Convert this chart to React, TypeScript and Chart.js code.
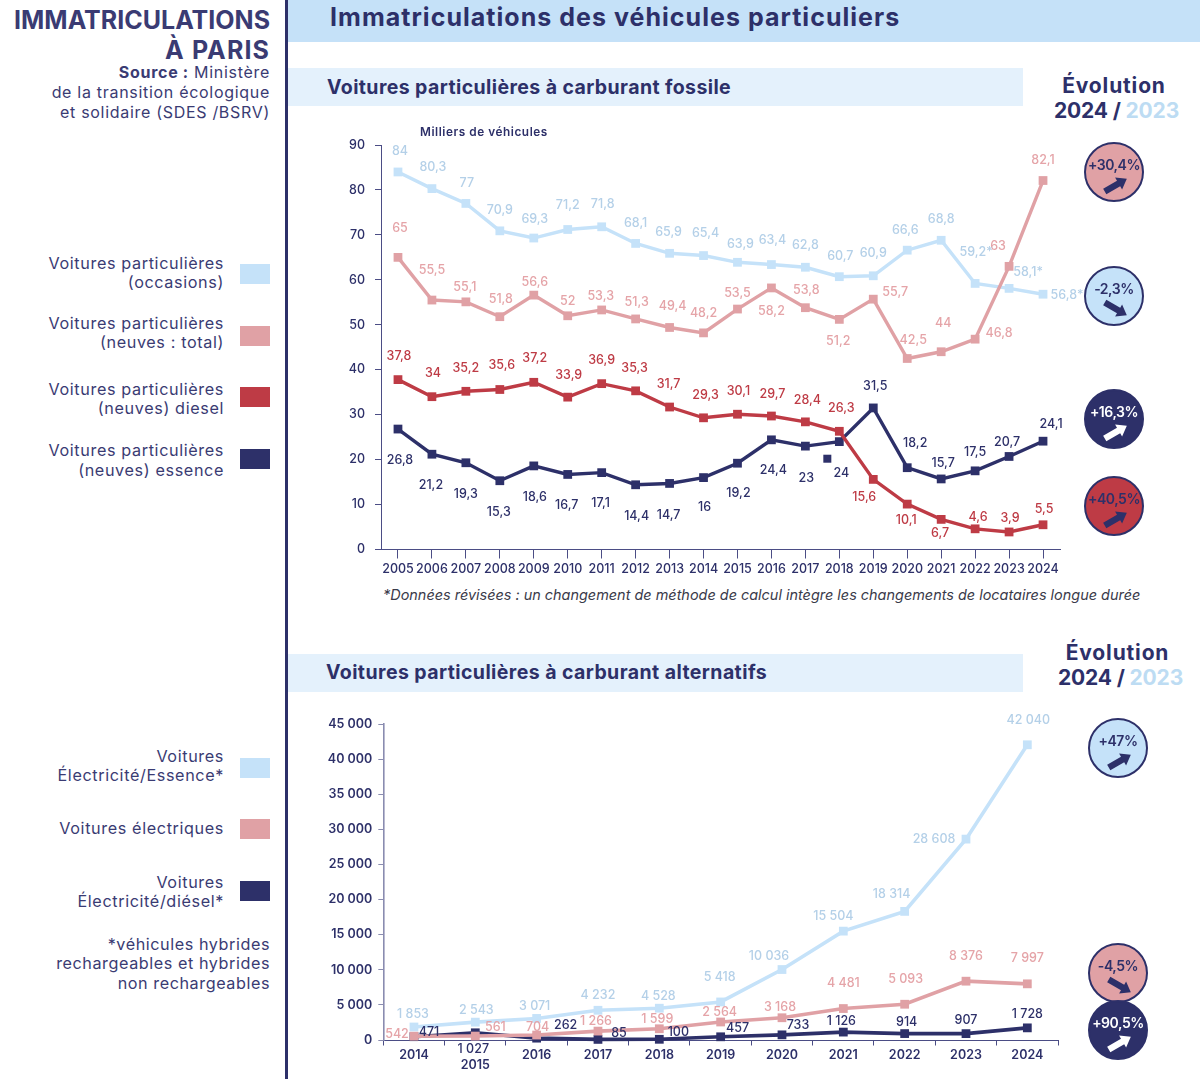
import React, { useEffect, useRef } from "react";
import { Chart, registerables } from "chart.js";

Chart.register(...registerables);

// ---------- data: fossil chart ----------
const yearsFossil = ["2005","2006","2007","2008","2009","2010","2011","2012","2013","2014","2015","2016","2017","2018","2019","2020","2021","2022","2023","2024"];
const occasions = [84,80.3,77,70.9,69.3,71.2,71.8,68.1,65.9,65.4,63.9,63.4,62.8,60.7,60.9,66.6,68.8,59.2,58.1,56.8];
const neuvesTotal = [65,55.5,55.1,51.8,56.6,52,53.3,51.3,49.4,48.2,53.5,58.2,53.8,51.2,55.7,42.5,44,46.8,63,82.1];
const neuvesDiesel = [37.8,34,35.2,35.6,37.2,33.9,36.9,35.3,31.7,29.3,30.1,29.7,28.4,26.3,15.6,10.1,6.7,4.6,3.9,5.5];
const neuvesEssence = [26.8,21.2,19.3,15.3,18.6,16.7,17.1,14.4,14.7,16,19.2,24.4,23,24,31.5,18.2,15.7,17.5,20.7,24.1];
const occasionsSuffix = ["","","","","","","","","","","","","","","","","","*","*","*"];
const fossilTicks = [0,10,20,30,40,50,60,70,80,90];

// ---------- data: alternative chart ----------
const yearsAlt = ["2014","2015","2016","2017","2018","2019","2020","2021","2022","2023","2024"];
const elecEssence = [1853,2543,3071,4232,4528,5418,10036,15504,18314,28608,42040];
const electriques = [542,561,704,1266,1599,2564,3168,4481,5093,8376,7997];
const elecDiesel = [471,1027,262,85,100,457,733,1126,914,907,1728];
const altTicks = [0,5000,10000,15000,20000,25000,30000,35000,40000,45000];

// ---------- colours ----------
const NAVY = "#2D3069";
const LIGHT = "#C5E2F9";
const PINK = "#E0A1A5";
const RED = "#BE3B45";
const LIGHT_LABEL = "#B4D0E8";
const PINK_LABEL = "#E5A4A8";
const TEXT = "#3A3B73";
const FONT = "Inter, 'Open Sans', sans-serif";

// ---------- label nudges relative to each point ([dx, dy]) ----------
const nudgeOcc = [[2,-21],[1,-21],[1,-20],[0,-21],[1,-19],[0,-24],[1,-23],[0,-20],[-1,-21],[2,-22],[3,-18],[1,-24],[0,-22],[1,-20],[0,-23],[-2,-20],[0,-21],[1,-31],[19,-16],[24,1]];
const nudgeTot = [[2,-29],[0,-30],[-1,-15],[1,-17],[1,-13],[0,-15],[-1,-14],[1,-17],[3,-21],[0,-20],[0,-16],[0,23],[1,-17],[-1,22],[22,-7],[6,-18],[2,-29],[24,-6],[-11,-20],[0,-20]];
const nudgeDie = [[1,-23],[1,-23],[0,-23],[2,-24],[1,-24],[1,-22],[0,-23],[-1,-23],[-1,-23],[2,-23],[1,-23],[1,-22],[2,-22],[2,-23],[-9,18],[-1,16],[-1,14],[3,-12],[1,-14],[1,-16]];
const nudgeEss = [[2,31],[-1,31],[0,31],[-1,31],[1,31],[-1,31],[-1,31],[1,31],[-1,32],[1,30],[1,30],[2,30],[1,32],[2,32],[2,-22],[8,-24],[2,-16],[0,-19],[-2,-14],[8,-17]];
const nudgeLight = [[-1,-13],[1,-12],[-2,-12],[0,-15],[-1,-12],[-1,-25],[-13,-13],[-10,-15],[-13,-17],[-32,0],[1,-25]];
const nudgePink = [[-17,-2],[20,-9],[1,-8],[-2,-10],[-2,-10],[-1,-10],[-2,-11],[0,-25],[1,-25],[0,-25],[0,-26]];
const nudgeNavy = [[15,-4],[-2,16],[29,-13],[21,-6],[19,-7],[17,-9],[16,-10],[-2,-11],[2,-11],[0,-13],[0,-14]];

const fmtFr = (v: number) => String(v).replace(".", ",");
const fmtThousands = (v: number) => String(v).replace(/\B(?=(\d{3})+(?!\d))/g, " ");

const valueLabels = {
  id: "valueLabels",
  afterDatasetsDraw(chart: any, _a: any, opts: any) {
    const { ctx } = chart;
    ctx.save();
    ctx.font = `500 ${opts.size}px ${FONT}`;
    ctx.textAlign = "center";
    ctx.textBaseline = "middle";
    chart.data.datasets.forEach((ds: any, i: number) => {
      const meta = chart.getDatasetMeta(i);
      ctx.fillStyle = ds.labelColor;
      meta.data.forEach((pt: any, j: number) => {
        const [dx, dy] = ds.nudges[j];
        const txt = opts.format(ds.data[j]) + (ds.suffix ? ds.suffix[j] : "");
        ctx.fillText(txt, pt.x + dx, pt.y + dy);
      });
    });
    if (opts.stray) {
      const x = chart.scales.x.getPixelForValue(opts.stray.index) + opts.stray.dx;
      const y = chart.scales.y.getPixelForValue(opts.stray.value);
      ctx.fillStyle = NAVY;
      ctx.fillRect(x - 4, y - 4, 8, 8);
    }
    ctx.restore();
  },
};

function line(label: string, data: number[], color: string, labelColor: string, nudges: number[][], width: number, suffix?: string[]) {
  return {
    label, data, nudges, labelColor, suffix,
    borderColor: color, backgroundColor: color, pointBackgroundColor: color, pointBorderColor: color,
    borderWidth: width, pointStyle: "rect", pointRadius: 6.2, pointBorderWidth: 0, tension: 0, clip: false,
  };
}

const fossilConfig: any = {
  type: "line",
  data: {
    labels: yearsFossil,
    datasets: [
      line("Voitures particulières (neuves : total)", neuvesTotal, PINK, PINK_LABEL, nudgeTot, 3.4),
      line("Voitures particulières (neuves) diesel", neuvesDiesel, RED, RED, nudgeDie, 3.4),
      line("Voitures particulières (neuves) essence", neuvesEssence, NAVY, NAVY, nudgeEss, 3.4),
      line("Voitures particulières (occasions)", occasions, LIGHT, LIGHT_LABEL, nudgeOcc, 3.4, occasionsSuffix),
    ],
  },
  options: {
    responsive: false, animation: false, devicePixelRatio: 1,
    layout: { padding: { left: 0, right: 40, top: 25, bottom: 0 } },
    plugins: {
      legend: { display: false }, tooltip: { enabled: false },
      valueLabels: { size: 12.5, format: fmtFr, stray: { index: 13, dx: -12, value: 20.2 } },
    },
    scales: {
      x: {
        offset: true,
        afterFit: (s: any) => { s.height = 30.5; s.paddingLeft = 0; s.paddingRight = 0; },
        grid: { drawOnChartArea: false, drawTicks: true, tickLength: 9, color: "#4B4D85", tickWidth: 1 },
        border: { color: "#4B4D85", width: 1 },
        ticks: { autoSkip: false, maxRotation: 0, padding: 3, color: NAVY, font: { family: FONT, size: 12.5, weight: "500" } },
      },
      y: {
        min: 0, max: 90,
        afterBuildTicks: (s: any) => { s.ticks = fossilTicks.map((value) => ({ value })); },
        afterFit: (s: any) => { s.width = 61; s.paddingTop = 0; s.paddingBottom = 0; },
        grid: { drawOnChartArea: false, drawTicks: true, tickLength: 6, color: "#4B4D85" },
        border: { color: "#4B4D85", width: 1 },
        ticks: { padding: 10, color: NAVY, font: { family: FONT, size: 12.5, weight: "500" } },
      },
    },
  },
  plugins: [valueLabels],
};

const altConfig: any = {
  type: "line",
  data: {
    labels: yearsAlt,
    datasets: [
      line("Voitures électriques", electriques, PINK, PINK_LABEL, nudgePink, 3.6),
      line("Voitures Électricité/Essence*", elecEssence, LIGHT, LIGHT_LABEL, nudgeLight, 3.6),
      line("Voitures Électricité/diésel*", elecDiesel, NAVY, NAVY, nudgeNavy, 3.6),
    ],
  },
  options: {
    responsive: false, animation: false, devicePixelRatio: 1,
    layout: { padding: { left: 0, right: 40, top: 24, bottom: 0 } },
    plugins: {
      legend: { display: false }, tooltip: { enabled: false },
      valueLabels: { size: 12.5, format: fmtThousands },
    },
    scales: {
      x: {
        offset: true,
        afterFit: (s: any) => { s.height = 39; s.paddingLeft = 0; s.paddingRight = 0; },
        grid: { offset: true, drawOnChartArea: false, drawTicks: true, tickLength: 5.5, color: "#4B4D85" },
        border: { color: "#4B4D85", width: 1 },
        ticks: {
          autoSkip: false, maxRotation: 0, padding: 4, color: NAVY,
          font: { family: FONT, size: 12.5, weight: "600", lineHeight: 0.85 },
          callback: (_v: any, i: number) => (i === 1 ? ["", yearsAlt[i]] : yearsAlt[i]),
        },
      },
      y: {
        min: 0, max: 45000,
        afterBuildTicks: (s: any) => { s.ticks = altTicks.map((value) => ({ value })); },
        afterFit: (s: any) => { s.width = 63.3; s.paddingTop = 0; s.paddingBottom = 0; },
        grid: { drawOnChartArea: false, drawTicks: true, tickLength: 5, color: "#8A8CB0" },
        border: { color: "#8A8CB0", width: 1.6 },
        ticks: {
          padding: 6, color: NAVY, font: { family: FONT, size: 12.5, weight: "600" },
          callback: (v: any) => fmtThousands(v),
        },
      },
    },
  },
  plugins: [valueLabels],
};

function ChartCanvas({ config, left, top, width, height }: any) {
  const ref = useRef<HTMLCanvasElement>(null);
  useEffect(() => {
    const chart = new Chart(ref.current as HTMLCanvasElement, config);
    return () => chart.destroy();
  }, [config]);
  return <canvas ref={ref} width={width} height={height} style={{ position: "absolute", left, top, width, height }} />;
}

function T({ x, y, size, weight = 500, color = TEXT, align = "left", italic, spacing, children }: any) {
  const tx = align === "right" ? "-100%" : align === "center" ? "-50%" : "0";
  return (
    <div style={{
      position: "absolute", left: x, top: y, transform: `translate(${tx}, -50%)`,
      fontFamily: FONT, fontSize: size, fontWeight: weight, color, whiteSpace: "pre", lineHeight: 1,
      fontStyle: italic ? "italic" : "normal", letterSpacing: spacing,
    }}>{children}</div>
  );
}

function Rect({ x, y, w, h, color }: any) {
  return <div style={{ position: "absolute", left: x, top: y, width: w, height: h, background: color }} />;
}

function Badge({ cx, cy, bg, fg, text, up }: any) {
  return (
    <div style={{
      position: "absolute", left: cx - 30, top: cy - 30, width: 60, height: 60, boxSizing: "border-box",
      borderRadius: "50%", background: bg, border: `2px solid ${NAVY}`,
    }}>
      <T x={28} y={20.5} size={14} weight={600} spacing={-0.45} color={fg === "#FFFFFF" ? fg : NAVY} align="center">{text}</T>
      <svg width={30} height={26} viewBox="-15 -13 30 26" style={{ position: "absolute", left: 14.5, top: 28 }}>
        <polygon
          points="-13,-3.2 3,-3.2 3,-7 12.5,0 3,7 3,3.2 -13,3.2"
          fill={fg} transform={`rotate(${up ? -30 : 30})`}
        />
      </svg>
    </div>
  );
}

function Legend2({ y1, y2, sw, l1, l2, color }: any) {
  return (
    <>
      <T x={224} y={y1} size={16.2} weight={400} spacing={0.62} align="right">{l1}</T>
      {l2 ? <T x={224} y={y2} size={16.2} weight={400} spacing={0.62} align="right">{l2}</T> : null}
      <Rect x={240} y={sw} w={30} h={20} color={color} />
    </>
  );
}

export default function App() {
  return (
    <div style={{ position: "absolute", left: 0, top: 0, width: 1200, height: 1079, overflow: "hidden", background: "#FFFFFF" }}>
      <Rect x={288} y={0} w={912} h={42} color="#C5E1F8" />
      <Rect x={285} y={0} w={2.6} h={1079} color={NAVY} />
      <Rect x={288} y={68} w={735} h={38} color="#E4F1FC" />
      <Rect x={288} y={654} w={735} h={38} color="#E4F1FC" />

      <T x={270} y={20} size={25} weight={700} align="right">IMMATRICULATIONS</T>
      <T x={270} y={50} size={25} weight={700} spacing={1.1} align="right">À PARIS</T>
      <T x={270} y={72} size={16} weight={400} spacing={0.7} align="right"><b style={{ fontWeight: 700 }}>Source :</b> Ministère</T>
      <T x={270} y={92} size={16} weight={400} spacing={0.7} align="right">de la transition écologique</T>
      <T x={270} y={112} size={16} weight={400} spacing={0.7} align="right">et solidaire (SDES /BSRV)</T>

      <T x={330} y={17} size={25} weight={700} spacing={1.03} color={NAVY}>Immatriculations des véhicules particuliers</T>
      <T x={327} y={88} size={19.5} weight={700} spacing={0.4} color={NAVY}>Voitures particulières à carburant fossile</T>
      <T x={326} y={673} size={19.5} weight={700} spacing={0.42} color={NAVY}>Voitures particulières à carburant alternatifs</T>

      <T x={1114} y={85} size={21} weight={700} spacing={0.85} color={NAVY} align="center">Évolution</T>
      <T x={1116.5} y={110} size={21} weight={700} spacing={-0.15} color={NAVY} align="center">2024 / <span style={{ color: "#BDDCF3" }}>2023</span></T>
      <T x={1117.5} y={652} size={21} weight={700} spacing={0.85} color={NAVY} align="center">Évolution</T>
      <T x={1120.5} y={677} size={21} weight={700} spacing={-0.15} color={NAVY} align="center">2024 / <span style={{ color: "#BDDCF3" }}>2023</span></T>

      <Legend2 y1={263} y2={282} sw={264} l1="Voitures particulières" l2="(occasions)" color={LIGHT} />
      <Legend2 y1={323} y2={342} sw={326} l1="Voitures particulières" l2="(neuves : total)" color={PINK} />
      <Legend2 y1={389} y2={408} sw={387} l1="Voitures particulières" l2="(neuves) diesel" color={RED} />
      <Legend2 y1={450} y2={470} sw={449} l1="Voitures particulières" l2="(neuves) essence" color={NAVY} />

      <Legend2 y1={756} y2={775} sw={758} l1="Voitures" l2="Électricité/Essence*" color={LIGHT} />
      <Legend2 y1={828} sw={819} l1="Voitures électriques" color={PINK} />
      <Legend2 y1={882} y2={901} sw={881} l1="Voitures" l2="Électricité/diésel*" color={NAVY} />

      <T x={270} y={944} size={16.2} weight={400} spacing={0.56} align="right">*véhicules hybrides</T>
      <T x={270} y={963} size={16.2} weight={400} spacing={0.56} align="right">rechargeables et hybrides</T>
      <T x={270} y={983} size={16.2} weight={400} spacing={0.56} align="right">non rechargeables</T>

      <ChartCanvas config={fossilConfig} left={320} top={120} width={780} height={460} />
      <ChartCanvas config={altConfig} left={320} top={700} width={778} height={379} />

      <T x={420} y={133} size={11.8} weight={600} spacing={0.55} color={NAVY}>Milliers de véhicules</T>
      <T x={383} y={595} size={14.45} weight={400} italic color="#3A3A4A">*Données révisées : un changement de méthode de calcul intègre les changements de locataires longue durée</T>

      <Badge cx={1114} cy={172} bg={PINK} fg={NAVY} text="+30,4%" up />
      <Badge cx={1114} cy={296} bg={LIGHT} fg={NAVY} text="-2,3%" />
      <Badge cx={1114} cy={419} bg={NAVY} fg="#FFFFFF" text="+16,3%" up />
      <Badge cx={1114} cy={506} bg={RED} fg={NAVY} text="+40,5%" up />
      <Badge cx={1118} cy={748} bg={LIGHT} fg={NAVY} text="+47%" up />
      <Badge cx={1118} cy={973} bg={PINK} fg={NAVY} text="-4,5%" />
      <Badge cx={1118} cy={1030} bg={NAVY} fg="#FFFFFF" text="+90,5%" up />
    </div>
  );
}
